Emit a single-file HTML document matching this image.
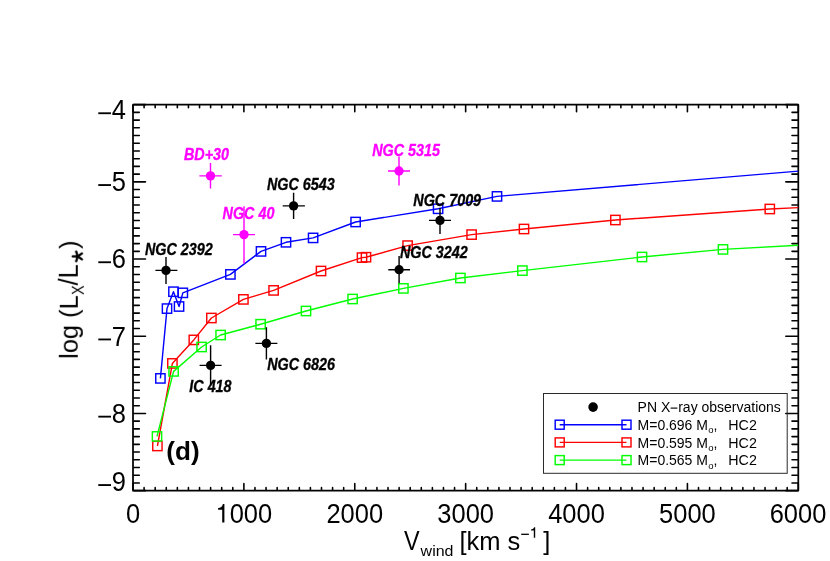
<!DOCTYPE html>
<html><head><meta charset="utf-8"><title>PN X-ray</title>
<style>html,body{margin:0;padding:0;background:#fff;}body{width:830px;height:561px;overflow:hidden;}svg{display:block;}text{font-family:"Liberation Sans",sans-serif;}</style>
</head><body>
<svg width="830" height="561" viewBox="0 0 830 561">
<rect x="0" y="0" width="830" height="561" fill="#fff"/>
<defs><clipPath id="cp"><rect x="133.00" y="104.65" width="665.30" height="386.00"/></clipPath></defs>
<g opacity="0.999">
<rect x="133.00" y="104.65" width="665.30" height="386.00" fill="none" stroke="#000" stroke-width="1.75" stroke-linejoin="round"/>
<path d="M133.00 489.85v-6.20M133.00 105.45v6.20M144.09 489.85v-2.20M144.09 105.45v2.20M155.18 489.85v-2.20M155.18 105.45v2.20M166.26 489.85v-2.20M166.26 105.45v2.20M177.35 489.85v-2.20M177.35 105.45v2.20M188.44 489.85v-2.20M188.44 105.45v2.20M199.53 489.85v-2.20M199.53 105.45v2.20M210.62 489.85v-2.20M210.62 105.45v2.20M221.71 489.85v-2.20M221.71 105.45v2.20M232.80 489.85v-2.20M232.80 105.45v2.20M243.88 489.85v-6.20M243.88 105.45v6.20M254.97 489.85v-2.20M254.97 105.45v2.20M266.06 489.85v-2.20M266.06 105.45v2.20M277.15 489.85v-2.20M277.15 105.45v2.20M288.24 489.85v-2.20M288.24 105.45v2.20M299.32 489.85v-2.20M299.32 105.45v2.20M310.41 489.85v-2.20M310.41 105.45v2.20M321.50 489.85v-2.20M321.50 105.45v2.20M332.59 489.85v-2.20M332.59 105.45v2.20M343.68 489.85v-2.20M343.68 105.45v2.20M354.77 489.85v-6.20M354.77 105.45v6.20M365.86 489.85v-2.20M365.86 105.45v2.20M376.94 489.85v-2.20M376.94 105.45v2.20M388.03 489.85v-2.20M388.03 105.45v2.20M399.12 489.85v-2.20M399.12 105.45v2.20M410.21 489.85v-2.20M410.21 105.45v2.20M421.30 489.85v-2.20M421.30 105.45v2.20M432.38 489.85v-2.20M432.38 105.45v2.20M443.47 489.85v-2.20M443.47 105.45v2.20M454.56 489.85v-2.20M454.56 105.45v2.20M465.65 489.85v-6.20M465.65 105.45v6.20M476.74 489.85v-2.20M476.74 105.45v2.20M487.83 489.85v-2.20M487.83 105.45v2.20M498.92 489.85v-2.20M498.92 105.45v2.20M510.00 489.85v-2.20M510.00 105.45v2.20M521.09 489.85v-2.20M521.09 105.45v2.20M532.18 489.85v-2.20M532.18 105.45v2.20M543.27 489.85v-2.20M543.27 105.45v2.20M554.36 489.85v-2.20M554.36 105.45v2.20M565.44 489.85v-2.20M565.44 105.45v2.20M576.53 489.85v-6.20M576.53 105.45v6.20M587.62 489.85v-2.20M587.62 105.45v2.20M598.71 489.85v-2.20M598.71 105.45v2.20M609.80 489.85v-2.20M609.80 105.45v2.20M620.89 489.85v-2.20M620.89 105.45v2.20M631.98 489.85v-2.20M631.98 105.45v2.20M643.06 489.85v-2.20M643.06 105.45v2.20M654.15 489.85v-2.20M654.15 105.45v2.20M665.24 489.85v-2.20M665.24 105.45v2.20M676.33 489.85v-2.20M676.33 105.45v2.20M687.42 489.85v-6.20M687.42 105.45v6.20M698.50 489.85v-2.20M698.50 105.45v2.20M709.59 489.85v-2.20M709.59 105.45v2.20M720.68 489.85v-2.20M720.68 105.45v2.20M731.77 489.85v-2.20M731.77 105.45v2.20M742.86 489.85v-2.20M742.86 105.45v2.20M753.95 489.85v-2.20M753.95 105.45v2.20M765.03 489.85v-2.20M765.03 105.45v2.20M776.12 489.85v-2.20M776.12 105.45v2.20M787.21 489.85v-2.20M787.21 105.45v2.20M798.30 489.85v-6.20M798.30 105.45v6.20M133.80 104.65h11.70M797.50 104.65h-11.70M133.80 112.37h5.50M797.50 112.37h-5.50M133.80 120.09h5.50M797.50 120.09h-5.50M133.80 127.81h5.50M797.50 127.81h-5.50M133.80 135.53h5.50M797.50 135.53h-5.50M133.80 143.25h5.50M797.50 143.25h-5.50M133.80 150.97h5.50M797.50 150.97h-5.50M133.80 158.69h5.50M797.50 158.69h-5.50M133.80 166.41h5.50M797.50 166.41h-5.50M133.80 174.13h5.50M797.50 174.13h-5.50M133.80 181.85h11.70M797.50 181.85h-11.70M133.80 189.57h5.50M797.50 189.57h-5.50M133.80 197.29h5.50M797.50 197.29h-5.50M133.80 205.01h5.50M797.50 205.01h-5.50M133.80 212.73h5.50M797.50 212.73h-5.50M133.80 220.45h5.50M797.50 220.45h-5.50M133.80 228.17h5.50M797.50 228.17h-5.50M133.80 235.89h5.50M797.50 235.89h-5.50M133.80 243.61h5.50M797.50 243.61h-5.50M133.80 251.33h5.50M797.50 251.33h-5.50M133.80 259.05h11.70M797.50 259.05h-11.70M133.80 266.77h5.50M797.50 266.77h-5.50M133.80 274.49h5.50M797.50 274.49h-5.50M133.80 282.21h5.50M797.50 282.21h-5.50M133.80 289.93h5.50M797.50 289.93h-5.50M133.80 297.65h5.50M797.50 297.65h-5.50M133.80 305.37h5.50M797.50 305.37h-5.50M133.80 313.09h5.50M797.50 313.09h-5.50M133.80 320.81h5.50M797.50 320.81h-5.50M133.80 328.53h5.50M797.50 328.53h-5.50M133.80 336.25h11.70M797.50 336.25h-11.70M133.80 343.97h5.50M797.50 343.97h-5.50M133.80 351.69h5.50M797.50 351.69h-5.50M133.80 359.41h5.50M797.50 359.41h-5.50M133.80 367.13h5.50M797.50 367.13h-5.50M133.80 374.85h5.50M797.50 374.85h-5.50M133.80 382.57h5.50M797.50 382.57h-5.50M133.80 390.29h5.50M797.50 390.29h-5.50M133.80 398.01h5.50M797.50 398.01h-5.50M133.80 405.73h5.50M797.50 405.73h-5.50M133.80 413.45h11.70M797.50 413.45h-11.70M133.80 421.17h5.50M797.50 421.17h-5.50M133.80 428.89h5.50M797.50 428.89h-5.50M133.80 436.61h5.50M797.50 436.61h-5.50M133.80 444.33h5.50M797.50 444.33h-5.50M133.80 452.05h5.50M797.50 452.05h-5.50M133.80 459.77h5.50M797.50 459.77h-5.50M133.80 467.49h5.50M797.50 467.49h-5.50M133.80 475.21h5.50M797.50 475.21h-5.50M133.80 482.93h5.50M797.50 482.93h-5.50M133.80 490.65h11.70M797.50 490.65h-11.70" stroke="#000" stroke-width="1.60" stroke-linecap="round" fill="none"/>
<polyline points="160.40,378.40 167.00,308.60 173.45,291.70 179.05,306.50 182.85,292.85 230.40,274.40 261.00,251.40 286.00,242.30 313.10,237.90 355.60,222.00 438.10,208.80 497.00,196.40 798.40,171.10" fill="none" stroke="#00f" stroke-width="1.42" stroke-linejoin="round" clip-path="url(#cp)"/>
<rect x="155.75" y="373.75" width="9.30" height="9.30" fill="none" stroke="#00f" stroke-width="1.45"/>
<rect x="162.35" y="303.95" width="9.30" height="9.30" fill="none" stroke="#00f" stroke-width="1.45"/>
<rect x="168.80" y="287.05" width="9.30" height="9.30" fill="none" stroke="#00f" stroke-width="1.45"/>
<rect x="174.40" y="301.85" width="9.30" height="9.30" fill="none" stroke="#00f" stroke-width="1.45"/>
<rect x="178.20" y="288.20" width="9.30" height="9.30" fill="none" stroke="#00f" stroke-width="1.45"/>
<rect x="225.75" y="269.75" width="9.30" height="9.30" fill="none" stroke="#00f" stroke-width="1.45"/>
<rect x="256.35" y="246.75" width="9.30" height="9.30" fill="none" stroke="#00f" stroke-width="1.45"/>
<rect x="281.35" y="237.65" width="9.30" height="9.30" fill="none" stroke="#00f" stroke-width="1.45"/>
<rect x="308.45" y="233.25" width="9.30" height="9.30" fill="none" stroke="#00f" stroke-width="1.45"/>
<rect x="350.95" y="217.35" width="9.30" height="9.30" fill="none" stroke="#00f" stroke-width="1.45"/>
<rect x="433.45" y="204.15" width="9.30" height="9.30" fill="none" stroke="#00f" stroke-width="1.45"/>
<rect x="492.35" y="191.75" width="9.30" height="9.30" fill="none" stroke="#00f" stroke-width="1.45"/>
<polyline points="157.40,446.00 172.40,363.40 193.80,339.90 211.40,318.00 243.40,299.40 273.60,290.40 321.00,271.00 362.00,257.60 366.00,257.20 407.60,245.60 471.60,234.60 524.00,229.00 615.40,220.00 769.80,209.00 798.40,207.60" fill="none" stroke="#f00" stroke-width="1.42" stroke-linejoin="round" clip-path="url(#cp)"/>
<rect x="152.75" y="441.35" width="9.30" height="9.30" fill="none" stroke="#f00" stroke-width="1.45"/>
<rect x="167.75" y="358.75" width="9.30" height="9.30" fill="none" stroke="#f00" stroke-width="1.45"/>
<rect x="189.15" y="335.25" width="9.30" height="9.30" fill="none" stroke="#f00" stroke-width="1.45"/>
<rect x="206.75" y="313.35" width="9.30" height="9.30" fill="none" stroke="#f00" stroke-width="1.45"/>
<rect x="238.75" y="294.75" width="9.30" height="9.30" fill="none" stroke="#f00" stroke-width="1.45"/>
<rect x="268.95" y="285.75" width="9.30" height="9.30" fill="none" stroke="#f00" stroke-width="1.45"/>
<rect x="316.35" y="266.35" width="9.30" height="9.30" fill="none" stroke="#f00" stroke-width="1.45"/>
<rect x="357.35" y="252.95" width="9.30" height="9.30" fill="none" stroke="#f00" stroke-width="1.45"/>
<rect x="361.35" y="252.55" width="9.30" height="9.30" fill="none" stroke="#f00" stroke-width="1.45"/>
<rect x="402.95" y="240.95" width="9.30" height="9.30" fill="none" stroke="#f00" stroke-width="1.45"/>
<rect x="466.95" y="229.95" width="9.30" height="9.30" fill="none" stroke="#f00" stroke-width="1.45"/>
<rect x="519.35" y="224.35" width="9.30" height="9.30" fill="none" stroke="#f00" stroke-width="1.45"/>
<rect x="610.75" y="215.35" width="9.30" height="9.30" fill="none" stroke="#f00" stroke-width="1.45"/>
<rect x="765.15" y="204.35" width="9.30" height="9.30" fill="none" stroke="#f00" stroke-width="1.45"/>
<polyline points="157.00,436.40 173.60,371.40 201.60,347.00 220.60,335.00 260.60,324.20 306.00,311.00 352.60,299.00 403.40,288.40 460.40,278.00 522.40,270.60 642.00,257.00 723.00,249.40 798.40,245.20" fill="none" stroke="#0f0" stroke-width="1.42" stroke-linejoin="round" clip-path="url(#cp)"/>
<rect x="152.35" y="431.75" width="9.30" height="9.30" fill="none" stroke="#0f0" stroke-width="1.45"/>
<rect x="168.95" y="366.75" width="9.30" height="9.30" fill="none" stroke="#0f0" stroke-width="1.45"/>
<rect x="196.95" y="342.35" width="9.30" height="9.30" fill="none" stroke="#0f0" stroke-width="1.45"/>
<rect x="215.95" y="330.35" width="9.30" height="9.30" fill="none" stroke="#0f0" stroke-width="1.45"/>
<rect x="255.95" y="319.55" width="9.30" height="9.30" fill="none" stroke="#0f0" stroke-width="1.45"/>
<rect x="301.35" y="306.35" width="9.30" height="9.30" fill="none" stroke="#0f0" stroke-width="1.45"/>
<rect x="347.95" y="294.35" width="9.30" height="9.30" fill="none" stroke="#0f0" stroke-width="1.45"/>
<rect x="398.75" y="283.75" width="9.30" height="9.30" fill="none" stroke="#0f0" stroke-width="1.45"/>
<rect x="455.75" y="273.35" width="9.30" height="9.30" fill="none" stroke="#0f0" stroke-width="1.45"/>
<rect x="517.75" y="265.95" width="9.30" height="9.30" fill="none" stroke="#0f0" stroke-width="1.45"/>
<rect x="637.35" y="252.35" width="9.30" height="9.30" fill="none" stroke="#0f0" stroke-width="1.45"/>
<rect x="718.35" y="244.75" width="9.30" height="9.30" fill="none" stroke="#0f0" stroke-width="1.45"/>
<path d="M155.40 270.40H177.40M166.00 257.00V284.00" stroke="#000" stroke-width="1.42" fill="none"/>
<circle cx="166.00" cy="270.40" r="4.65" fill="#000"/>
<path d="M282.70 205.90H304.90M293.60 192.80V218.90" stroke="#000" stroke-width="1.42" fill="none"/>
<circle cx="293.60" cy="205.90" r="4.65" fill="#000"/>
<path d="M199.60 365.40H221.60M210.60 345.30V385.50" stroke="#000" stroke-width="1.42" fill="none"/>
<circle cx="210.60" cy="365.40" r="4.65" fill="#000"/>
<path d="M255.40 343.40H277.40M266.40 327.30V359.50" stroke="#000" stroke-width="1.42" fill="none"/>
<circle cx="266.40" cy="343.40" r="4.65" fill="#000"/>
<path d="M388.30 269.70H410.00M399.10 256.00V283.30" stroke="#000" stroke-width="1.42" fill="none"/>
<circle cx="399.10" cy="269.70" r="4.65" fill="#000"/>
<path d="M429.00 220.40H451.00M440.00 208.00V234.00" stroke="#000" stroke-width="1.42" fill="none"/>
<circle cx="440.00" cy="220.40" r="4.65" fill="#000"/>
<path d="M199.40 175.90H221.80M210.50 163.00V188.60" stroke="#f0f" stroke-width="1.42" fill="none"/>
<circle cx="210.50" cy="175.90" r="4.65" fill="#f0f"/>
<path d="M233.00 234.60H255.00M244.00 206.20V263.50" stroke="#f0f" stroke-width="1.42" fill="none"/>
<circle cx="244.00" cy="234.60" r="4.65" fill="#f0f"/>
<path d="M388.00 171.00H410.00M399.00 156.50V185.60" stroke="#f0f" stroke-width="1.42" fill="none"/>
<circle cx="399.00" cy="171.00" r="4.65" fill="#f0f"/>
<text transform="translate(145.0,255.3) scale(0.845,1)" font-size="17.0" font-weight="bold" font-style="italic" fill="#000" stroke="#000" stroke-width="0.35">NGC 2392</text>
<text transform="translate(267.0,190.4) scale(0.845,1)" font-size="17.0" font-weight="bold" font-style="italic" fill="#000" stroke="#000" stroke-width="0.35">NGC 6543</text>
<text transform="translate(189.3,392.3) scale(0.845,1)" font-size="17.0" font-weight="bold" font-style="italic" fill="#000" stroke="#000" stroke-width="0.35">IC 418</text>
<text transform="translate(267.2,370.4) scale(0.845,1)" font-size="17.0" font-weight="bold" font-style="italic" fill="#000" stroke="#000" stroke-width="0.35">NGC 6826</text>
<text transform="translate(399.9,257.8) scale(0.845,1)" font-size="17.0" font-weight="bold" font-style="italic" fill="#000" stroke="#000" stroke-width="0.35">NGC 3242</text>
<text transform="translate(413.3,205.6) scale(0.845,1)" font-size="17.0" font-weight="bold" font-style="italic" fill="#000" stroke="#000" stroke-width="0.35">NGC 7009</text>
<text transform="translate(184.0,160.0) scale(0.845,1)" font-size="17.0" font-weight="bold" font-style="italic" fill="#f0f" stroke="#f0f" stroke-width="0.35">BD+30</text>
<text transform="translate(222.6,218.6) scale(0.845,1)" font-size="17.0" font-weight="bold" font-style="italic" fill="#f0f" stroke="#f0f" stroke-width="0.35">NGC 40</text>
<text transform="translate(372.2,155.6) scale(0.845,1)" font-size="17.0" font-weight="bold" font-style="italic" fill="#f0f" stroke="#f0f" stroke-width="0.35">NGC 5315</text>
<rect x="543.5" y="393.5" width="243.7" height="79.8" fill="none" stroke="#2a2a2a" stroke-width="1"/>
<circle cx="593.1" cy="407.1" r="4.8" fill="#000"/>
<path d="M559.7 424.70H626.5" stroke="#00f" stroke-width="1.42"/>
<rect x="555.20" y="420.20" width="9.00" height="9.00" fill="none" stroke="#00f" stroke-width="1.45"/>
<rect x="622.00" y="420.20" width="9.00" height="9.00" fill="none" stroke="#00f" stroke-width="1.45"/>
<text transform="translate(637.60,429.85) scale(1.000,1.060)" font-size="14.00" fill="#000">M=0.696 M</text>
<text transform="translate(708.20,433.30)" font-size="9.50" fill="#000">o</text>
<text transform="translate(713.60,429.85) scale(1.000,1.060)" font-size="14.00" fill="#000">,</text>
<text transform="translate(728.30,429.85) scale(1.020,1.060)" font-size="14.00" fill="#000">HC2</text>
<path d="M559.7 442.40H626.5" stroke="#f00" stroke-width="1.42"/>
<rect x="555.20" y="437.90" width="9.00" height="9.00" fill="none" stroke="#f00" stroke-width="1.45"/>
<rect x="622.00" y="437.90" width="9.00" height="9.00" fill="none" stroke="#f00" stroke-width="1.45"/>
<text transform="translate(637.60,447.55) scale(1.000,1.060)" font-size="14.00" fill="#000">M=0.595 M</text>
<text transform="translate(708.20,451.00)" font-size="9.50" fill="#000">o</text>
<text transform="translate(713.60,447.55) scale(1.000,1.060)" font-size="14.00" fill="#000">,</text>
<text transform="translate(728.30,447.55) scale(1.020,1.060)" font-size="14.00" fill="#000">HC2</text>
<path d="M559.7 460.10H626.5" stroke="#0f0" stroke-width="1.42"/>
<rect x="555.20" y="455.60" width="9.00" height="9.00" fill="none" stroke="#0f0" stroke-width="1.45"/>
<rect x="622.00" y="455.60" width="9.00" height="9.00" fill="none" stroke="#0f0" stroke-width="1.45"/>
<text transform="translate(637.60,465.25) scale(1.000,1.060)" font-size="14.00" fill="#000">M=0.565 M</text>
<text transform="translate(708.20,468.70)" font-size="9.50" fill="#000">o</text>
<text transform="translate(713.60,465.25) scale(1.000,1.060)" font-size="14.00" fill="#000">,</text>
<text transform="translate(728.30,465.25) scale(1.020,1.060)" font-size="14.00" fill="#000">HC2</text>
<text transform="translate(637.60,411.60) scale(1.000,1.060)" font-size="14.00" fill="#000">PN X</text>
<path d="M670.6 408.1H677.4" stroke="#000" stroke-width="1.15" fill="none"/>
<text transform="translate(678.20,411.60) scale(1.000,1.060)" font-size="14.00" fill="#000">ray observations</text>
<text transform="translate(133.00,522.80) scale(1.000,1.070)" font-size="25.50" text-anchor="middle" fill="#000">0</text>
<text transform="translate(229.70,522.80) scale(1.000,1.070)" font-size="25.50" text-anchor="start" fill="#000">000</text>
<path d="M224.4 504.1V522.6H222.2V509.7H218.1V508.1C220.6 508 222.4 506.7 222.9 504.1Z" fill="#000"/>
<text transform="translate(354.77,522.80) scale(1.000,1.070)" font-size="25.50" text-anchor="middle" fill="#000">2000</text>
<text transform="translate(465.65,522.80) scale(1.000,1.070)" font-size="25.50" text-anchor="middle" fill="#000">3000</text>
<text transform="translate(576.53,522.80) scale(1.000,1.070)" font-size="25.50" text-anchor="middle" fill="#000">4000</text>
<text transform="translate(687.42,522.80) scale(1.000,1.070)" font-size="25.50" text-anchor="middle" fill="#000">5000</text>
<text transform="translate(798.00,522.80) scale(1.000,1.070)" font-size="25.50" text-anchor="middle" fill="#000">6000</text>
<text transform="translate(126.00,119.35) scale(1.000,1.070)" font-size="25.50" text-anchor="end" fill="#000">4</text>
<path d="M98.3 113.25H111" stroke="#000" stroke-width="1.85" fill="none"/>
<text transform="translate(126.00,191.15) scale(1.000,1.070)" font-size="25.50" text-anchor="end" fill="#000">5</text>
<path d="M98.3 185.05H111" stroke="#000" stroke-width="1.85" fill="none"/>
<text transform="translate(126.00,268.35) scale(1.000,1.070)" font-size="25.50" text-anchor="end" fill="#000">6</text>
<path d="M98.3 262.25H111" stroke="#000" stroke-width="1.85" fill="none"/>
<text transform="translate(126.00,345.55) scale(1.000,1.070)" font-size="25.50" text-anchor="end" fill="#000">7</text>
<path d="M98.3 339.45H111" stroke="#000" stroke-width="1.85" fill="none"/>
<text transform="translate(126.00,422.75) scale(1.000,1.070)" font-size="25.50" text-anchor="end" fill="#000">8</text>
<path d="M98.3 416.65H111" stroke="#000" stroke-width="1.85" fill="none"/>
<text transform="translate(126.00,491.15) scale(1.000,1.070)" font-size="25.50" text-anchor="end" fill="#000">9</text>
<path d="M98.3 485.05H111" stroke="#000" stroke-width="1.85" fill="none"/>
<text transform="translate(404.10,549.95) scale(0.920,1.070)" font-size="25.50" text-anchor="start" fill="#000">V</text>
<text transform="translate(420.60,556.10) scale(1.000,0.940)" font-size="16.00" text-anchor="start" fill="#000">wind</text>
<text transform="translate(459.40,550.20) scale(1.000,1.040)" font-size="25.50" text-anchor="start" fill="#000">[km s</text>
<path d="M521.2 534.3H528.9" stroke="#000" stroke-width="1.3" fill="none"/>
<path d="M535.2 527.3V537.8H533.8V530.5H531V529.5C532.6 529.4 533.7 528.7 534.1 527.3Z" fill="#000"/>
<text transform="translate(543.20,550.20) scale(1.000,1.040)" font-size="25.50" text-anchor="start" fill="#000">]</text>
<g transform="translate(77.80,358.90) rotate(-90)">
<text transform="translate(0.00,0.00) scale(1.000,1.030)" font-size="25.50" fill="#000">log (L</text>
<text transform="translate(64.00,6.40) scale(0.900,1.000)" font-size="16.00" fill="#000">X</text>
<text transform="translate(73.50,0.00) scale(1.000,1.050)" font-size="25.50" fill="#000">/L</text>
<text transform="translate(110.00,0.00) scale(1.000,1.030)" font-size="25.50" fill="#000">)</text>
<path d="M102.50 0.00L102.50 -5.10M102.50 0.00L107.35 -1.58M102.50 0.00L105.50 4.13M102.50 0.00L99.50 4.13M102.50 0.00L97.65 -1.58" stroke="#000" stroke-width="2.3" stroke-linecap="round" fill="none"/>
</g>
<text x="166.3" y="460.1" font-size="26.1" font-weight="bold" fill="#000">(d)</text>
</g>
</svg></body></html>
